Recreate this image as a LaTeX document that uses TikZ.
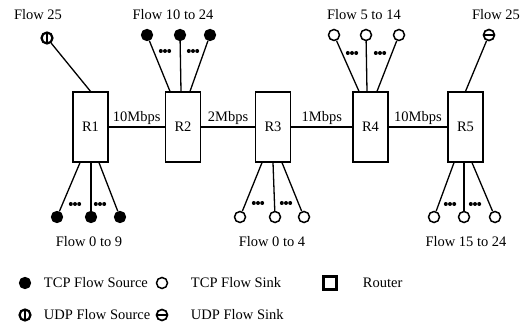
\documentclass[tikz,border=0pt]{standalone}
\usepackage{fontspec}
\setmainfont{Liberation Serif}
\usetikzlibrary{positioning}

\begin{document}
\begin{tikzpicture}[
  x=1pt, y=-1pt,
  line width=1.3pt,
  every node/.style={font=\fontsize{14.5}{16}\selectfont},
  router/.style={draw,rectangle,minimum width=35pt,minimum height=70pt,inner sep=0pt},
  tcpsrc/.style={draw,circle,fill=black,minimum size=11pt,inner sep=0pt},
  tcpsink/.style={draw,circle,fill=white,minimum size=11pt,inner sep=0pt,line width=1.5pt},
  udpsrc/.style={draw,circle,minimum size=11pt,inner sep=0pt,line width=2.2pt,
    path picture={\draw[line width=1.8pt] (path picture bounding box.north) -- (path picture bounding box.south);}},
  udpsink/.style={draw,circle,minimum size=11pt,inner sep=0pt,line width=1.7pt,
    path picture={\draw[line width=1.6pt] (path picture bounding box.west) -- (path picture bounding box.east);}},
  legbox/.style={draw,rectangle,minimum size=13pt,inner sep=0pt,line width=2.2pt},
  rate/.style={above,inner sep=1.5pt},
  flowdots/.style={circle,fill=black,minimum size=4pt,inner sep=0pt}
]
\useasboundingbox (0,0) rectangle (524,328);

% routers
\node[router] (R1) at (90.5,127) {R1};
\node[router] (R2) at (183,127) {R2};
\node[router] (R3) at (273,127) {R3};
\node[router] (R4) at (370.5,127) {R4};
\node[router] (R5) at (465.5,127) {R5};

% links
\path (R1) edge node[rate] {10Mbps} (R2)
(R2) edge node[rate] {2Mbps} (R3)
(R3) edge node[rate] {1Mbps} (R4)
(R4) edge node[rate] {10Mbps} (R5)
;

% flows at R1
\node[udpsrc] (u1) at (47,38) {};
\node (l1) at (38,15) {Flow 25};
\node[tcpsrc] (a1) at (57,217) {};
\node[tcpsrc] (a2) at (91,217) {};
\node[tcpsrc] (a3) at (120,217) {};
\node (l2) at (89,242) {Flow 0 to 9};
\path (u1) edge (R1.north)
(a1) edge ([xshift=-10.5pt]R1.south)
(a2) edge ([xshift=0.5pt]R1.south)
(a3) edge ([xshift=8.5pt]R1.south)
;

% flows at R2
\node[tcpsrc] (b1) at (147,35) {};
\node[tcpsrc] (b2) at (180,35) {};
\node[tcpsrc] (b3) at (210,35) {};
\node (l3) at (173,15) {Flow 10 to 24};
\path (b1) edge ([xshift=-13pt]R2.north)
(b2) edge ([xshift=-2pt]R2.north)
(b3) edge ([xshift=7pt]R2.north)
;

% flows at R3
\node[tcpsink] (c1) at (240,217) {};
\node[tcpsink] (c2) at (275,217) {};
\node[tcpsink] (c3) at (304,217) {};
\node (l4) at (272,242) {Flow 0 to 4};
\path (c1) edge ([xshift=-11pt]R3.south)
(c2) edge (R3.south)
(c3) edge ([xshift=9pt]R3.south)
;

% flows at R4
\node[tcpsink] (d1) at (334,35) {};
\node[tcpsink] (d2) at (366,35) {};
\node[tcpsink] (d3) at (399,35) {};
\node (l5) at (364,15) {Flow 5 to 14};
\path (d1) edge ([xshift=-11.5pt]R4.north)
(d2) edge ([xshift=-3.5pt]R4.north)
(d3) edge ([xshift=6.5pt]R4.north)
;

% flows at R5
\node[udpsink] (e0) at (489,35) {};
\node (l6) at (496,15) {Flow 25};
\node[tcpsink] (e1) at (434,217) {};
\node[tcpsink] (e2) at (464,217) {};
\node[tcpsink] (e3) at (495,217) {};
\node (l7) at (466,242) {Flow 15 to 24};
\path (e0) edge (R5.north)
(e1) edge ([xshift=-11.5pt]R5.south)
(e2) edge ([xshift=-1.5pt]R5.south)
(e3) edge ([xshift=6.5pt]R5.south)
;

% dots between flow lines
\foreach \x/\y in {165/51,193/51,352/53,380/53,75/204,100/204,258/203,286/203,450/204,475/204}
  \foreach \k in {-4.2,0,4.2}
    \node[flowdots] at (\x+\k,\y) {};

% legend
\node[tcpsrc] (k1) at (25,283) {};
\node[right] (t1) at (40,283) {TCP Flow Source};
\node[tcpsink] (k2) at (162,283) {};
\node[right] (t2) at (187,283) {TCP Flow Sink};
\node[legbox] (k3) at (330,283) {};
\node[right] (t3) at (359,283) {Router};
\node[udpsrc] (k4) at (25,315) {};
\node[right] (t4) at (40,315) {UDP Flow Source};
\node[udpsink] (k5) at (162,315) {};
\node[right] (t5) at (187,315) {UDP Flow Sink};
\end{tikzpicture}
\end{document}
